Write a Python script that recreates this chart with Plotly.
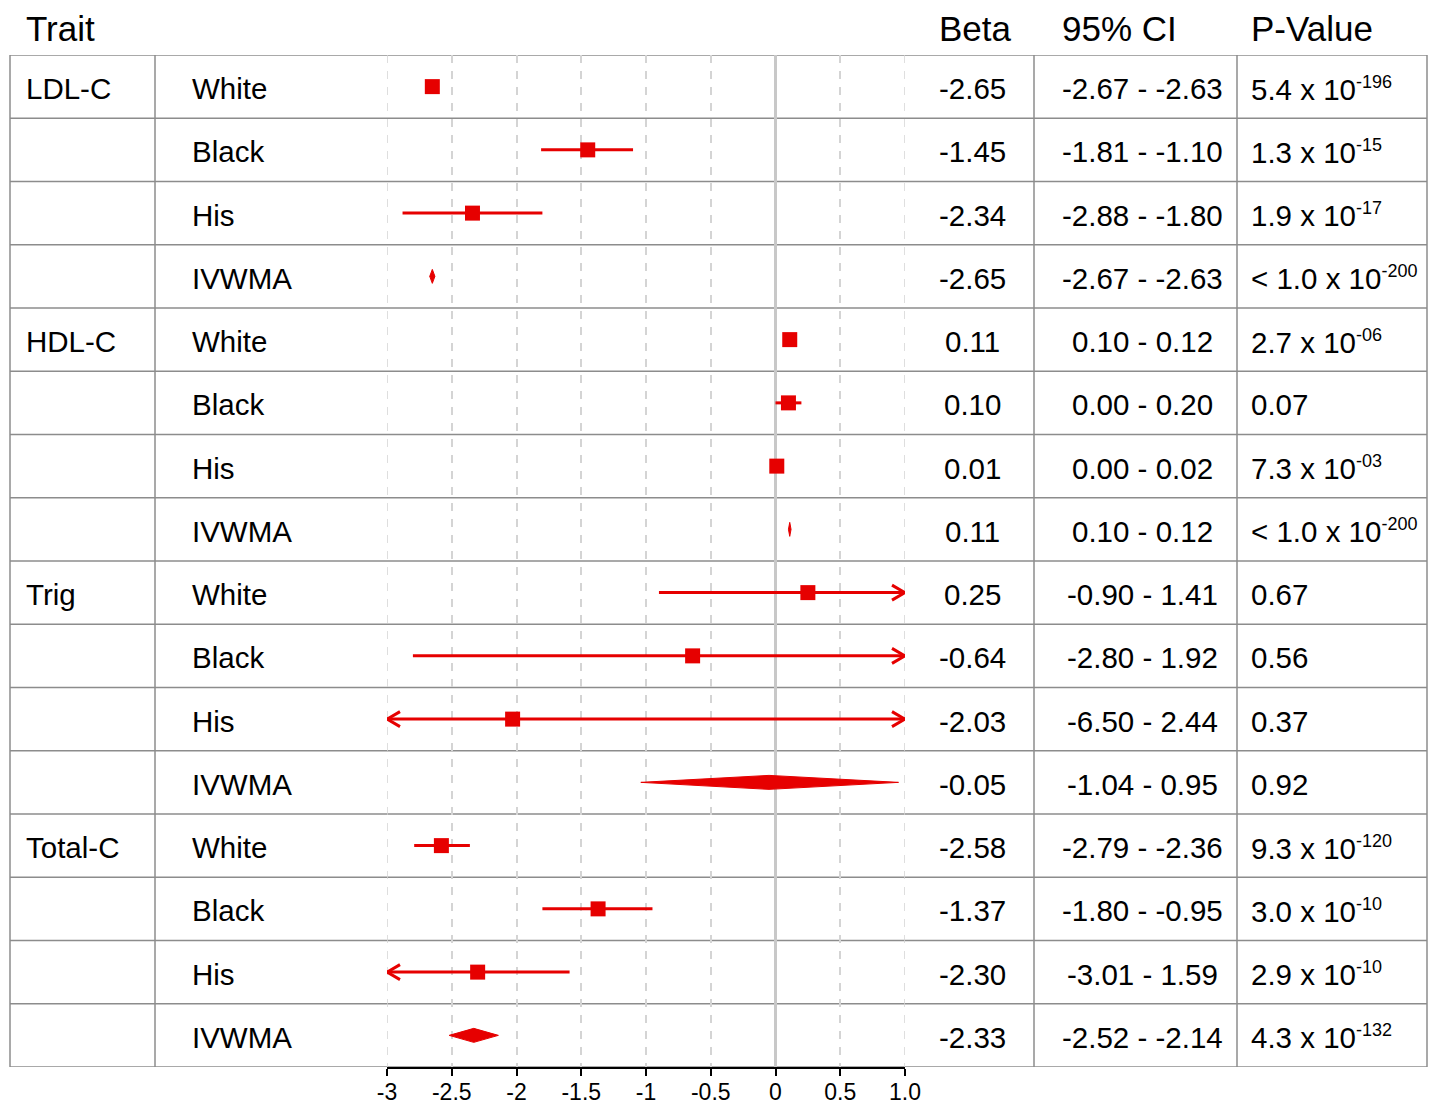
import plotly.graph_objects as go

# ---------------- data ----------------
traits = ["LDL-C", "HDL-C", "Trig", "Total-C"]
groups = ["White", "Black", "His", "IVWMA"]
beta = [-2.65, -1.45, -2.34, -2.65,
        0.11, 0.10, 0.01, 0.11,
        0.25, -0.64, -2.03, -0.05,
        -2.58, -1.37, -2.30, -2.33]
ci_lo = [-2.67, -1.81, -2.88, -2.67,
         0.10, 0.00, 0.00, 0.10,
         -0.90, -2.80, -6.50, -1.04,
         -2.79, -1.80, -3.01, -2.52]
ci_hi = [-2.63, -1.10, -1.80, -2.63,
         0.12, 0.20, 0.02, 0.12,
         1.41, 1.92, 2.44, 0.95,
         -2.36, -0.95, -1.59, -2.14]
ci_text = ["-2.67 - -2.63", "-1.81 - -1.10", "-2.88 - -1.80", "-2.67 - -2.63",
           "0.10 - 0.12", "0.00 - 0.20", "0.00 - 0.02", "0.10 - 0.12",
           "-0.90 - 1.41", "-2.80 - 1.92", "-6.50 - 2.44", "-1.04 - 0.95",
           "-2.79 - -2.36", "-1.80 - -0.95", "-3.01 - 1.59", "-2.52 - -2.14"]
p_base = ["5.4 x 10", "1.3 x 10", "1.9 x 10", "< 1.0 x 10",
          "2.7 x 10", "0.07", "7.3 x 10", "< 1.0 x 10",
          "0.67", "0.56", "0.37", "0.92",
          "9.3 x 10", "3.0 x 10", "2.9 x 10", "4.3 x 10"]
p_exp = ["-196", "-15", "-17", "-200",
         "-06", "", "-03", "-200",
         "", "", "", "",
         "-120", "-10", "-10", "-132"]
tick_vals = [-3, -2.5, -2, -1.5, -1, -0.5, 0, 0.5, 1.0]
tick_text = ["-3", "-2.5", "-2", "-1.5", "-1", "-0.5", "0", "0.5", "1.0"]
headers = ["Trait", "Beta", "95% CI", "P-Value"]

# ---------------- layout constants ----------------
W, H = 1432, 1106
TOP, BOT = 55, 1067
XL, XR = 387, 905
XMIN, XMAX = -3.0, 1.0
NROW = len(beta)
RED = "#e60000"
BORDER = "#8c8c8c"
GRID = "#d4d4d4"
FONT = "Liberation Sans, Arial, sans-serif"

px_per_x = (XR - XL) / (XMAX - XMIN)
px_per_row = (BOT - TOP) / NROW


def fx(px):
    return px / W


def fy(py):
    return 1 - py / H


fig = go.Figure()

# CI lines (clipped) and arrows
lx, ly = [], []
ax_, ay_ = [], []
adx = 13 / px_per_x
ady = 7.5 / px_per_row
for i in range(NROW):
    if groups[i % 4] == "IVWMA":
        continue
    yc = i + 0.5
    lo = max(ci_lo[i], XMIN)
    hi = min(ci_hi[i], XMAX)
    lx += [lo, hi, None]
    ly += [yc, yc, None]
    if ci_lo[i] < XMIN:
        ax_ += [XMIN + adx, XMIN, XMIN + adx, None]
        ay_ += [yc - ady, yc, yc + ady, None]
    if ci_hi[i] > XMAX:
        ax_ += [XMAX - adx, XMAX, XMAX - adx, None]
        ay_ += [yc - ady, yc, yc + ady, None]

fig.add_trace(go.Scatter(x=lx, y=ly, mode="lines", line=dict(color=RED, width=3),
                         hoverinfo="skip", showlegend=False, cliponaxis=False))
fig.add_trace(go.Scatter(x=ax_, y=ay_, mode="lines", line=dict(color=RED, width=3),
                         hoverinfo="skip", showlegend=False, cliponaxis=False))

# squares
sx = [beta[i] for i in range(NROW) if groups[i % 4] != "IVWMA"]
sy = [i + 0.5 for i in range(NROW) if groups[i % 4] != "IVWMA"]
fig.add_trace(go.Scatter(x=sx, y=sy, mode="markers",
                         marker=dict(symbol="square", size=15, color=RED, line=dict(width=0)),
                         showlegend=False))

# diamonds
dh = 7 / px_per_row
for i in range(NROW):
    if groups[i % 4] != "IVWMA":
        continue
    yc = i + 0.5
    fig.add_trace(go.Scatter(
        x=[ci_lo[i], beta[i], ci_hi[i], beta[i], ci_lo[i]],
        y=[yc, yc - dh, yc, yc + dh, yc],
        mode="lines", fill="toself", fillcolor=RED,
        line=dict(color=RED, width=1), showlegend=False, hoverinfo="skip"))

# table borders
shapes = []
for r in range(NROW + 1):
    shapes.append(dict(type="line", xref="paper", yref="y", x0=fx(10), x1=fx(1427),
                       y0=r, y1=r, line=dict(color=BORDER, width=1.5), layer="below"))
for vx in [10, 155, 1034, 1237, 1427]:
    shapes.append(dict(type="line", xref="paper", yref="y", x0=fx(vx), x1=fx(vx),
                       y0=0, y1=NROW, line=dict(color=BORDER, width=1.5), layer="below"))
# dashed gridlines at the range edges (plotly omits them)
for gx in [XMIN, XMAX]:
    shapes.append(dict(type="line", xref="x", yref="y", x0=gx, x1=gx, y0=0, y1=NROW,
                       line=dict(color=GRID, width=1.5, dash="8px,8px"), layer="below"))

annotations = []
tfont = dict(family=FONT, size=29.5, color="black")
for i in range(NROW):
    yc = i + 0.53
    if i % 4 == 0:
        annotations.append(dict(text=traits[i // 4], x=fx(24), y=yc, xref="paper", yref="y",
                                xanchor="left", yanchor="middle", showarrow=False, font=tfont))
    annotations.append(dict(text=groups[i % 4], x=fx(190), y=yc, xref="paper", yref="y",
                            xanchor="left", yanchor="middle", showarrow=False, font=tfont))
    annotations.append(dict(text=f"{beta[i]:.2f}", x=fx(972), y=yc, xref="paper", yref="y",
                            xanchor="center", yanchor="middle", showarrow=False, font=tfont))
    annotations.append(dict(text=ci_text[i], x=fx(1142), y=yc, xref="paper", yref="y",
                            xanchor="center", yanchor="middle", showarrow=False, font=tfont))
    ptxt = p_base[i]
    if p_exp[i]:
        ptxt += '<sup><span style="font-size:18px">' + p_exp[i] + "</span></sup>"
    annotations.append(dict(text=ptxt, x=fx(1249), y=yc, xref="paper", yref="y",
                            xanchor="left", yanchor="middle", showarrow=False, font=tfont))

hfont = dict(family=FONT, size=35, color="black")
for txt, px, anc in zip(headers, [24, 975, 1060, 1249], ["left", "center", "left", "left"]):
    annotations.append(dict(text=txt, x=fx(px), y=fy(28), xref="paper", yref="paper",
                            xanchor=anc, yanchor="middle", showarrow=False, font=hfont))

fig.update_layout(
    width=W, height=H,
    margin=dict(l=0, r=0, t=0, b=0),
    paper_bgcolor="white", plot_bgcolor="white",
    shapes=shapes, annotations=annotations,
    xaxis=dict(domain=[fx(XL), fx(XR)], range=[XMIN, XMAX],
               tickvals=tick_vals, ticktext=tick_text,
               showgrid=True, gridcolor=GRID, gridwidth=1.5, griddash="8px,8px",
               zeroline=True, zerolinecolor="#c8c8c8", zerolinewidth=3,
               showline=True, linecolor="black", linewidth=1.5,
               ticks="outside", ticklen=7, tickwidth=1.5, tickcolor="black",
               ticklabelstandoff=-3,
               tickfont=dict(family=FONT, size=23, color="black"),
               automargin=False, fixedrange=True),
    yaxis=dict(domain=[fy(BOT), fy(TOP)], range=[NROW, 0],
               showgrid=False, zeroline=False, showticklabels=False, showline=False,
               automargin=False, fixedrange=True),
    showlegend=False,
)

fig.write_html("out.html", config={"displayModeBar": False},
               post_script="document.body.style.margin='0px';document.body.style.padding='0px';document.body.style.overflow='hidden';")
